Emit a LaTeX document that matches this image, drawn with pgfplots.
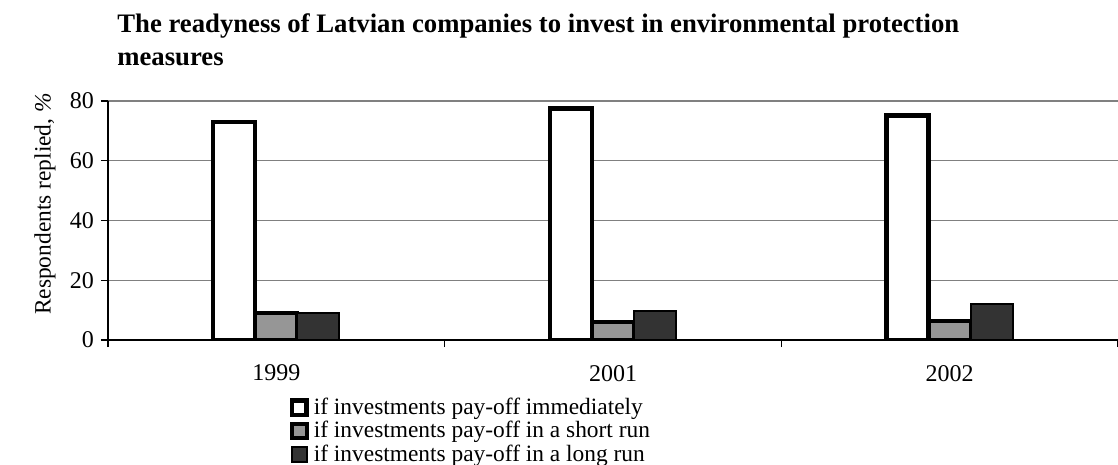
\documentclass[border=0pt]{standalone}
\usepackage{fontspec}
\setmainfont{Liberation Serif}
\usepackage{pgfplots}
\pgfplotsset{compat=1.18}
\definecolor{barmid}{RGB}{150,150,150}
\definecolor{bardark}{RGB}{51,51,51}
\definecolor{gridc}{RGB}{128,128,128}
\pgfplotsset{sqlegend/.style={legend image code/.code={\draw[##1] (0pt,-3.6pt) rectangle (7.2pt,3.6pt);}}}
\begin{document}
\begin{tikzpicture}
\begin{axis}[
  name=ax,
  width=505pt, height=119.5pt, scale only axis,
  xmin=-0.5, xmax=2.5, ymin=0, ymax=80,
  axis x line*=bottom, axis y line*=left,
  axis line style={draw=black, line width=0.6pt},
  ytick={0,20,40,60,80},
  ymajorgrids, major grid style={draw=gridc, line width=0.6pt},
  xtick={-0.5,0.5,1.5,2.5}, xticklabels={\empty,\empty,\empty,\empty},
  extra x ticks={0,1,2}, extra x tick labels={1999,2001,2002},
  extra x tick style={major tick length=0pt, xticklabel style={yshift=-9pt}},
  tick align=outside, major tick length=3.5pt,
  tick style={black, line width=0.6pt},
  ticklabel style={font=\fontsize{12}{14}\selectfont},
  /pgf/number format/assume math mode=true,
  ylabel={Respondents replied, \textit{\%}},
  ylabel style={at={(axis description cs:-0.0624,0.569)}, anchor=center, font=\fontsize{11.7}{14}\selectfont},
  ybar,
  legend style={at={(axis description cs:0.1802,-0.242)}, anchor=north west,
    draw=none, fill=none, inner sep=0pt, outer sep=0pt, row sep=2pt,
    nodes={inner sep=0pt},
    font=\fontsize{11.7}{13}\selectfont,
    /tikz/every odd column/.append style={column sep=2.5pt}},
  legend cell align=left,
]
\addplot[bar width=0.125, bar shift=-0.125, fill=white, draw=black, line width=2.2pt, sqlegend]
  coordinates {(0,73) (1,77.5) (2,75.2)};
\addlegendentry{if investments pay-off immediately}
\addplot[bar width=0.125, bar shift=0, fill=barmid, draw=black, line width=2pt, sqlegend]
  coordinates {(0,9.2) (1,6.1) (2,6.5)};
\addlegendentry{if investments pay-off in a short run}
\addplot[bar width=0.125, bar shift=0.125, fill=bardark, draw=black, line width=1pt, sqlegend]
  coordinates {(0,8.9) (1,9.7) (2,12)};
\addlegendentry{if investments pay-off in a long run}
\end{axis}
\node[anchor=base west, inner sep=0pt, font=\bfseries\fontsize{13.35}{15}\selectfont]
  at ([xshift=4.5pt,yshift=34.5pt]ax.north west) {The readyness of Latvian companies to invest in environmental protection};
\node[anchor=base west, inner sep=0pt, font=\bfseries\fontsize{13.35}{15}\selectfont]
  at ([xshift=4.5pt,yshift=18pt]ax.north west) {measures};
\pgfresetboundingbox
\path[use as bounding box] ([xshift=-54pt,yshift=-62.5pt]ax.south west) rectangle ([yshift=50.5pt]ax.north east);
\end{tikzpicture}
\end{document}
